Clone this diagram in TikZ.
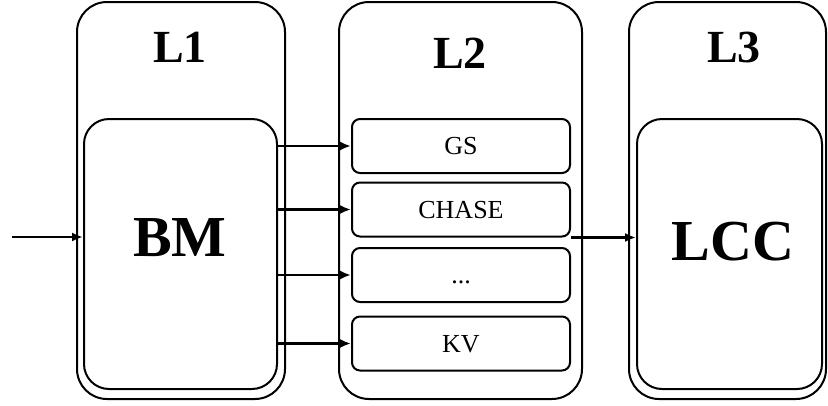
\documentclass[tikz,border=0pt]{standalone}
\usepackage{fontspec}
\setmainfont{Liberation Serif}
\usetikzlibrary{arrows.meta}
\begin{document}
\begin{tikzpicture}[x=1pt,y=-1pt,
  frame/.style={draw, line width=2pt, rounded corners=30pt, inner sep=0pt},
  core/.style={draw, line width=2pt, rounded corners=25pt, inner sep=0pt},
  slot/.style={draw, line width=2pt, rounded corners=8pt, inner sep=0pt,
    minimum width=218pt, minimum height=54pt,
    font=\fontsize{26}{26}\selectfont, text height=17pt, text depth=0pt},
  title/.style={inner sep=0pt, font=\fontsize{46}{46}\selectfont\bfseries},
  big/.style={inner sep=0pt, font=\fontsize{58}{58}\selectfont\bfseries},
  arr/.style={line width=2.2pt, -{Latex[length=11pt,width=9pt]}}]
\useasboundingbox (0,0) rectangle (828,405);

% three stages
\node[frame, minimum width=208pt, minimum height=397pt] (L1) at (181,200.5) {};
\node[frame, minimum width=243pt, minimum height=397pt] (L2) at (460.5,200.5) {};
\node[frame, minimum width=197pt, minimum height=397pt] (L3) at (727.5,200.5) {};

\node[title] (t1) at (180,47) {L1};
\node[title] (t2) at (460,53) {L2};
\node[title] (t3) at (734,47) {L3};

% contents of the stages
\node[core, minimum width=193pt, minimum height=270pt] (BM) at (180.5,254) {};
\node[big] (bmt) at (180,238) {BM};
\node[core, minimum width=185pt, minimum height=270pt] (LCC) at (729.5,254) {};
\node[big] (lcct) at (733,242) {LCC};

\node[slot] (GS) at (461,146) {GS};
\node[slot] (CHASE) at (461,209.5) {CHASE};
\node[slot] (DOTS) at (461,275) {...};
\node[slot] (KV) at (461,343.5) {KV};

% connectors
\coordinate (in) at (12,237);
\draw[arr] (in) -- (in -| BM.west);
\draw[arr] (GS.west -| BM.east) -- (GS.west);
\draw[arr] (CHASE.west -| BM.east) -- (CHASE.west);
\draw[arr] (DOTS.west -| BM.east) -- (DOTS.west);
\draw[arr] (KV.west -| BM.east) -- (KV.west);
\draw[arr] (CHASE.south east) -- (CHASE.south east -| LCC.west);
\end{tikzpicture}
\end{document}
